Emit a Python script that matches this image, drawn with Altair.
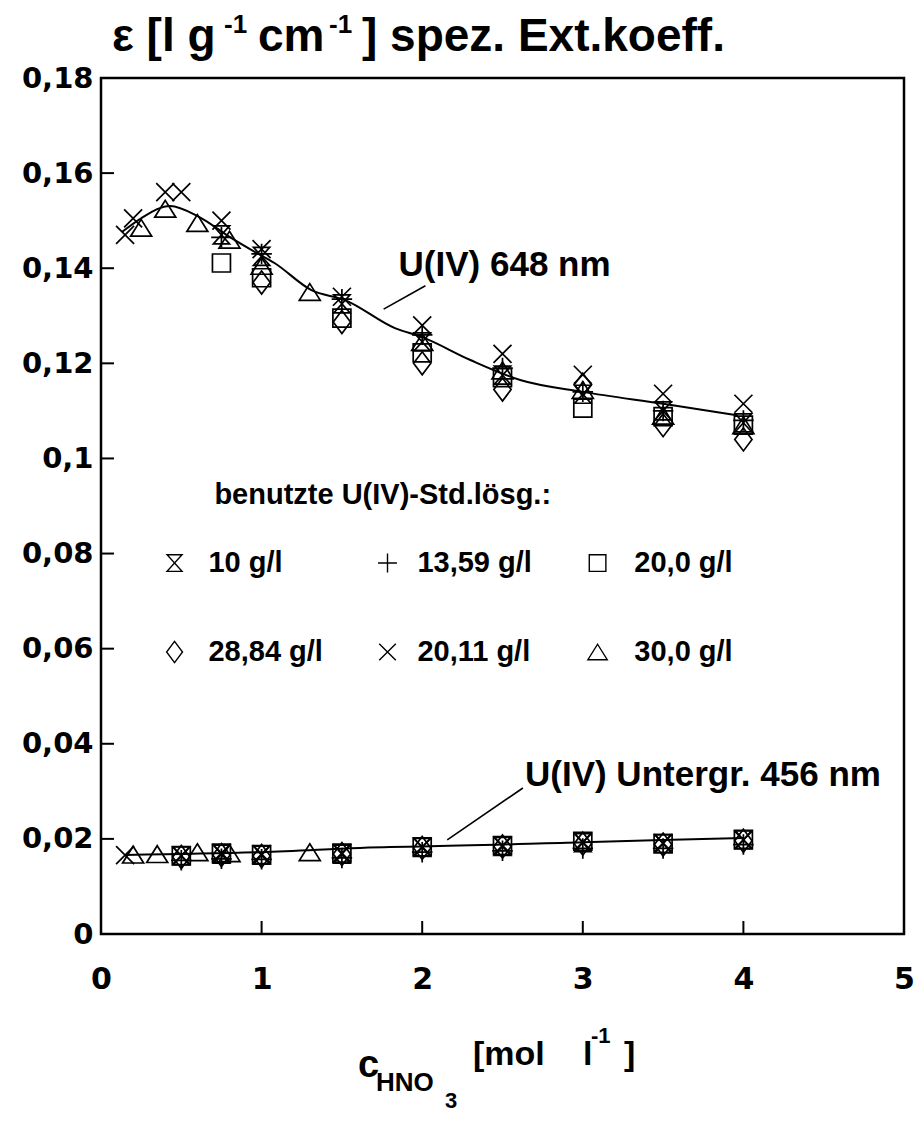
import altair as alt
import pandas as pd

# ---------------- data ----------------
X_TICKS = [0, 1, 2, 3, 4, 5]
Y_TICKS = [0, 0.02, 0.04, 0.06, 0.08, 0.1, 0.12, 0.14, 0.16, 0.18]

SERIES = ["10 g/l", "13,59 g/l", "20,0 g/l", "28,84 g/l", "20,11 g/l", "30,0 g/l"]

# 10 g/l  (hourglass)
hg_up_x = [0.75, 1.0, 1.5, 2.0, 2.5, 3.0, 3.5, 4.0]
hg_up_y = [0.1470, 0.1425, 0.1325, 0.1245, 0.1175, 0.1135, 0.1100, 0.1075]
hg_lo_x = [0.5, 0.75, 1.0, 1.5, 2.0, 2.5, 3.0, 3.5, 4.0]
hg_lo_y = [0.0164, 0.0168, 0.0166, 0.0168, 0.0182, 0.0184, 0.0192, 0.0190, 0.0198]

# 13,59 g/l (plus)
pl_up_x = [0.75, 1.0, 1.5, 2.0, 2.5, 3.0, 3.5, 4.0]
pl_up_y = [0.1465, 0.1430, 0.1335, 0.1260, 0.1190, 0.1140, 0.1100, 0.1080]
pl_lo_x = [0.5, 0.75, 1.0, 1.5, 2.0, 2.5, 3.0, 3.5, 4.0]
pl_lo_y = [0.0155, 0.0158, 0.0157, 0.0160, 0.0172, 0.0175, 0.0180, 0.0180, 0.0188]

# 20,0 g/l (square)
sq_up_x = [0.75, 1.0, 1.5, 2.0, 2.5, 3.0, 3.5, 4.0]
sq_up_y = [0.1411, 0.1380, 0.1295, 0.1222, 0.1170, 0.1106, 0.1088, 0.1070]
sq_lo_x = [0.5, 0.75, 1.0, 1.5, 2.0, 2.5, 3.0, 3.5, 4.0]
sq_lo_y = [0.0165, 0.0170, 0.0167, 0.0170, 0.0183, 0.0186, 0.0195, 0.0190, 0.0199]

# 28,84 g/l (diamond)
di_up_x = [1.0, 1.5, 2.0, 2.5, 3.0, 3.5, 4.0]
di_up_y = [0.1370, 0.1287, 0.1200, 0.1145, 0.1155, 0.1070, 0.1040]
di_lo_x = [0.5, 0.75, 1.0, 1.5, 2.0, 2.5, 3.0, 3.5, 4.0]
di_lo_y = [0.0162, 0.0166, 0.0164, 0.0168, 0.0181, 0.0184, 0.0190, 0.0188, 0.0196]

# 20,11 g/l (cross)
cr_up_x = [0.15, 0.2, 0.4, 0.5, 0.75, 1.0, 1.5, 2.0, 2.5, 3.0, 3.5, 4.0]
cr_up_y = [0.1470, 0.1505, 0.1560, 0.1560, 0.1500, 0.1440, 0.1340, 0.1280, 0.1220, 0.1176, 0.1136, 0.1115]
cr_lo_x = [0.15, 0.5, 0.75, 1.0, 1.5, 2.0, 2.5, 3.0, 3.5, 4.0]
cr_lo_y = [0.0166, 0.0165, 0.0170, 0.0168, 0.0170, 0.0183, 0.0186, 0.0193, 0.0191, 0.0198]

# 30,0 g/l (triangle)
tr_up_x = [0.25, 0.4, 0.6, 0.8, 1.0, 1.3, 2.0, 2.5, 3.0, 3.5, 4.0]
tr_up_y = [0.1485, 0.1525, 0.1495, 0.1460, 0.1405, 0.1350, 0.1245, 0.1185, 0.1144, 0.1090, 0.1070]
tr_lo_x = [0.2, 0.35, 0.6, 0.8, 1.3]
tr_lo_y = [0.0167, 0.0168, 0.0172, 0.0170, 0.0172]

# fitted curves
curve_up_x = [0.13, 0.25, 0.43, 0.61, 0.80, 0.97, 1.08, 1.31, 1.52, 1.83, 2.0, 2.3, 2.61, 3.0, 3.5, 3.96]
curve_up_y = [0.1476, 0.1505, 0.1531, 0.1508, 0.1466, 0.1432, 0.1411, 0.1354, 0.1333, 0.1274,
              0.1255, 0.1207, 0.1165, 0.1140, 0.1115, 0.1091]
curve_lo_x = [0.15, 1.0, 1.8, 2.0, 3.0, 4.0]
curve_lo_y = [0.0166, 0.0172, 0.0183, 0.0184, 0.0193, 0.0202]

# annotations
ann_text = ["U(IV) 648 nm", "U(IV) Untergr. 456 nm"]
ann_x = [1.853, 2.64]
ann_y = [0.1407, 0.0334]
lead_x = [1.76, 2.627]
lead_x2 = [2.02, 2.156]
lead_y = [0.1314, 0.0307]
lead_y2 = [0.1363, 0.0198]

leg_header = "benutzte U(IV)-Std.lösg.:"
leg_header_x = 0.706
leg_header_y = 0.0923
leg_sym_x = [0.458, 1.784, 3.092, 0.458, 1.784, 3.092]
leg_txt_x = [0.669, 1.970, 3.321, 0.669, 1.970, 3.321]
leg_y = [0.0780, 0.0780, 0.0780, 0.0593, 0.0593, 0.0593]

# ---------------- styling ----------------
W, H = 803, 856
SANS = "Liberation Sans"
WIDE = "DejaVu Sans"

SHAPES = {
    "10 g/l": ("M-0.9,-1L0.9,-1L-0.9,1L0.9,1Z", 324),
    "13,59 g/l": ("M-1,0L1,0M0,-1L0,1", 420),
    "20,0 g/l": ("M-1,-1L1,-1L1,1L-1,1Z", 324),
    "28,84 g/l": ("M0,-1L0.75,0L0,1L-0.75,0Z", 529),
    "20,11 g/l": ("M-1,-1L1,1M1,-1L-1,1", 324),
    "30,0 g/l": ("M0,-0.8L1,0.8L-1,0.8Z", 441),
}

xs = alt.Scale(domain=[0, 5], nice=False, zero=False)
ys = alt.Scale(domain=[0, 0.18], nice=False, zero=False)
xaxis = alt.Axis(values=X_TICKS, format="d", ticks=False, domain=False, grid=False,
                 labelFont=WIDE, labelFontWeight="bold", labelFontSize=30,
                 labelColor="black", labelPadding=30, labelFlush=False, labelOverlap=False)
yaxis = alt.Axis(values=Y_TICKS, ticks=False, domain=False, grid=False,
                 labelExpr="replace(format(datum.value, '.2~f'), '.', ',')",
                 labelFont=WIDE, labelFontWeight="bold", labelFontSize=29,
                 labelColor="black", labelPadding=8, labelFlush=False, labelOverlap=False)


def X(f):
    return alt.X(f, type="quantitative", scale=xs, axis=xaxis, title=None)


def Y(f):
    return alt.Y(f, type="quantitative", scale=ys, axis=yaxis, title=None)


series_data = {
    "10 g/l": (hg_up_x + hg_lo_x, hg_up_y + hg_lo_y),
    "13,59 g/l": (pl_up_x + pl_lo_x, pl_up_y + pl_lo_y),
    "20,0 g/l": (sq_up_x + sq_lo_x, sq_up_y + sq_lo_y),
    "28,84 g/l": (di_up_x + di_lo_x, di_up_y + di_lo_y),
    "20,11 g/l": (cr_up_x + cr_lo_x, cr_up_y + cr_lo_y),
    "30,0 g/l": (tr_up_x + tr_lo_x, tr_up_y + tr_lo_y),
}

layers = []

# curves
curves = pd.DataFrame({
    "x": curve_up_x + curve_lo_x,
    "y": curve_up_y + curve_lo_y,
    "c": ["up"] * len(curve_up_x) + ["lo"] * len(curve_lo_x),
})
layers.append(
    alt.Chart(curves).mark_line(color="black", strokeWidth=2, interpolate="monotone")
    .encode(x=X("x"), y=Y("y"), detail="c:N")
)

# data points and legend symbols
for i, name in enumerate(SERIES):
    path, size = SHAPES[name]
    xv, yv = series_data[name]
    df = pd.DataFrame({"x": xv, "y": yv})
    layers.append(
        alt.Chart(df).mark_point(shape=path, size=size, filled=False, fill=None,
                                 stroke="black", strokeWidth=1.7, opacity=1)
        .encode(x=X("x"), y=Y("y"))
    )
    ldf = pd.DataFrame({"x": [leg_sym_x[i]], "y": [leg_y[i]]})
    layers.append(
        alt.Chart(ldf).mark_point(shape=path, size=size * 0.85, filled=False, fill=None,
                                  stroke="black", strokeWidth=1.4, opacity=1)
        .encode(x=X("x"), y=Y("y"))
    )

# legend texts
legt = pd.DataFrame({"x": leg_txt_x, "y": leg_y, "t": SERIES})
layers.append(
    alt.Chart(legt).mark_text(font=SANS, fontWeight="bold", fontSize=29, align="left",
                              baseline="middle", color="black")
    .encode(x=X("x"), y=Y("y"), text="t:N")
)
layers.append(
    alt.Chart(pd.DataFrame({"x": [leg_header_x], "y": [leg_header_y], "t": [leg_header]}))
    .mark_text(font=SANS, fontWeight="bold", fontSize=29, align="left", baseline="middle", color="black")
    .encode(x=X("x"), y=Y("y"), text="t:N")
)

# annotations
ann = pd.DataFrame({"x": ann_x, "y": ann_y, "t": ann_text})
layers.append(
    alt.Chart(ann).mark_text(font=SANS, fontWeight="bold", fontSize=35, align="left",
                             baseline="middle", color="black")
    .encode(x=X("x"), y=Y("y"), text="t:N")
)
lead = pd.DataFrame({"x": lead_x, "x2": lead_x2, "y": lead_y, "y2": lead_y2})
layers.append(
    alt.Chart(lead).mark_rule(color="black", strokeWidth=1.6)
    .encode(x=X("x"), x2="x2", y=Y("y"), y2="y2")
)

# inward ticks
layers.append(
    alt.Chart(pd.DataFrame({"t": Y_TICKS})).mark_rule(color="black", strokeWidth=2)
    .encode(y=Y("t"), x=alt.value(0), x2=alt.value(13))
)
layers.append(
    alt.Chart(pd.DataFrame({"t": X_TICKS})).mark_rule(color="black", strokeWidth=2)
    .encode(x=X("t"), y=alt.value(H), y2=alt.value(H - 13))
)

# text pieces (titles with sub/superscripts)
one = pd.DataFrame({"a": [0]})


def piece(txt, px, py, size, baseline="middle"):
    return alt.Chart(one).mark_text(font=SANS, fontWeight="bold", fontSize=size, align="left",
                                    baseline=baseline, color="black").encode(
        x=alt.value(px), y=alt.value(py), text=alt.value(txt))


# y title:  ε [l g^-1 cm^-1] spez. Ext.koeff.
layers.append(piece("ε [l g", 11, -27, 46, "alphabetic"))
layers.append(piece("-1", 123, -45, 26, "alphabetic"))
layers.append(piece("cm", 157, -27, 46, "alphabetic"))
layers.append(piece("-1", 228, -45, 26, "alphabetic"))
layers.append(piece("] spez. Ext.koeff.", 261, -27, 46, "alphabetic"))

# x title:  c_HNO3 [mol l^-1]
layers.append(piece("c", 257, 988, 38))
layers.append(piece("HNO", 275, 1005, 26))
layers.append(piece("3", 344, 1023, 22))
layers.append(piece("[mol", 372, 977, 34))
layers.append(piece("l", 482, 977, 34))
layers.append(piece("-1", 490, 958, 22))
layers.append(piece("]", 523, 977, 34))

chart = alt.layer(*layers).properties(
    width=W, height=H,
    padding={"left": 93, "top": 70, "right": 12, "bottom": 182},
    autosize=alt.AutoSizeParams(type="none"),
    background="white",
).configure_view(stroke="black", strokeWidth=2.5)

chart.save("out.html", embed_options={"renderer": "svg", "actions": False})
